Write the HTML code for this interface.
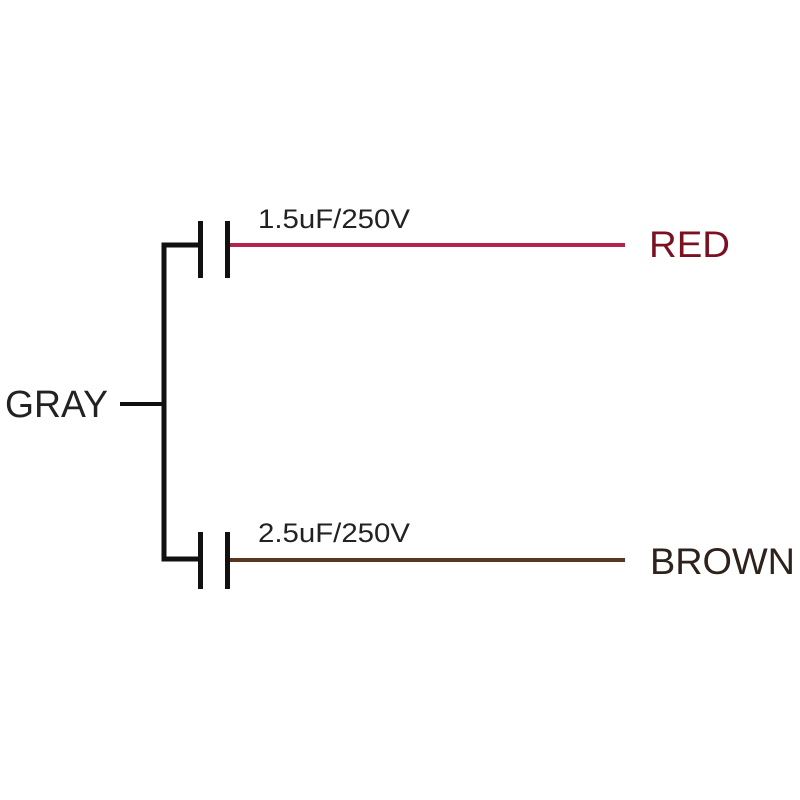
<!DOCTYPE html>
<html><head><meta charset="utf-8"><style>
html,body{margin:0;padding:0;background:#fff;}
svg{display:block;}
text{font-family:"Liberation Sans",Arial,sans-serif;}
</style></head><body>
<svg width="800" height="800" viewBox="0 0 800 800">
<rect width="800" height="800" fill="#fff"/>
<line x1="120" y1="404" x2="164" y2="404" stroke="#111" stroke-width="4"/>
<path d="M199 245 H164 V559 H199" fill="none" stroke="#111" stroke-width="5"/>
<line x1="200.5" y1="221" x2="200.5" y2="278" stroke="#111" stroke-width="5"/>
<line x1="227.5" y1="221" x2="227.5" y2="278" stroke="#111" stroke-width="5"/>
<line x1="230" y1="245" x2="625" y2="245" stroke="#b4244a" stroke-width="4"/>
<line x1="200.5" y1="532" x2="200.5" y2="589" stroke="#111" stroke-width="5"/>
<line x1="227.5" y1="532" x2="227.5" y2="589" stroke="#111" stroke-width="5"/>
<line x1="230" y1="560" x2="625" y2="560" stroke="#5a3420" stroke-width="4"/>
<text x="258" y="228" font-size="27" fill="#222" textLength="152" lengthAdjust="spacingAndGlyphs">1.5uF/250V</text>
<text x="258" y="542" font-size="27" fill="#222" textLength="152" lengthAdjust="spacingAndGlyphs">2.5uF/250V</text>
<text x="5" y="417" font-size="38" fill="#222" textLength="103" lengthAdjust="spacingAndGlyphs">GRAY</text>
<text x="649" y="257" font-size="37" fill="#7a1020" textLength="81" lengthAdjust="spacingAndGlyphs">RED</text>
<text x="650" y="574" font-size="37" fill="#2e231c" textLength="145" lengthAdjust="spacingAndGlyphs">BROWN</text>
</svg>
</body></html>
